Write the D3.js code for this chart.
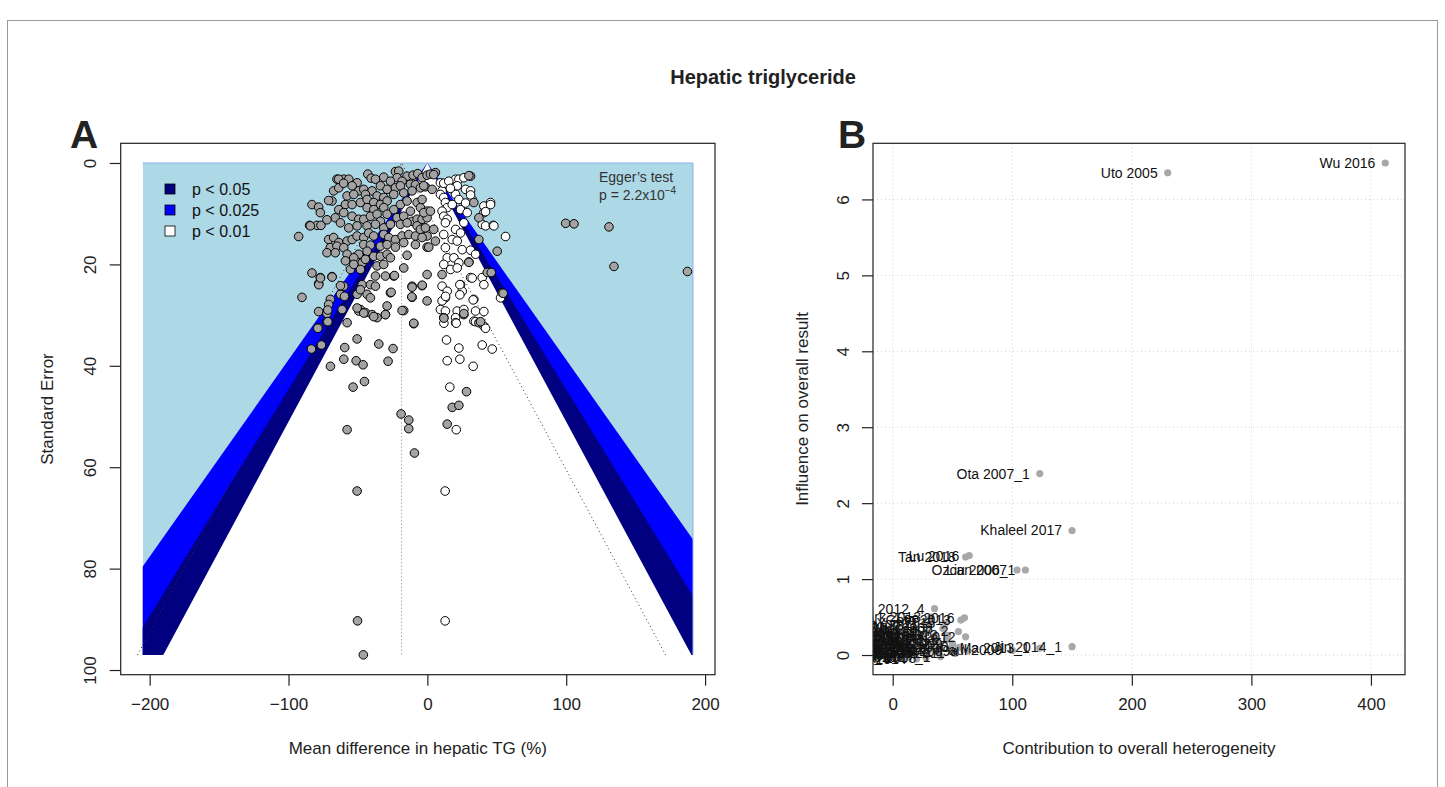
<!DOCTYPE html>
<html>
<head>
<meta charset="utf-8">
<script src="https://cdn.jsdelivr.net/npm/d3@7"></script>
<style>
  body { margin: 0; background: #fff; }
  svg { display: block; }
  text { font-family: "Liberation Sans", Arial, Helvetica, sans-serif; }
</style>
</head>
<body>
<svg id="fig" width="1445" height="787"></svg>
<script>
// ---------- Panel A: contour-enhanced funnel plot ----------
// observed studies: [mean difference (%), standard error]
const observed = [
  [-42.9,2.2],[-40.5,3.0],[-31.4,2.8],[-23.0,1.7],[-20.6,1.6],[-21.8,2.9],[-14.6,2.6],[-10.3,2.4],[-6.9,2.1],[-3.8,2.9],[-0.2,2.4],
  [-65.1,3.2],[-60.2,3.2],[-56.6,3.2],[-50.6,3.9],[-37.4,3.2],[-26.6,3.6],[-18.2,3.6],
  [-67.5,5.5],[-63.8,4.9],[-54.2,4.5],[-49.4,5.5],[-45.8,5.2],[-39.8,5.5],[-33.8,4.5],[-29.0,5.2],[-23.0,4.9],[-19.4,4.5],
  [-12.2,4.2],[-8.6,4.3],[-5.0,4.9],[-1.4,4.7],[-68.7,7.5],[-71.1,7.4],[-57.8,6.5],[-53.0,6.2],[-44.6,6.2],[-36.2,6.5],
  [-31.4,6.8],[-24.2,6.2],[-17.0,5.9],[-11.0,5.5],
  [-83.1,8.2],[-78.3,8.7],[-77.1,9.8],[-59.0,8.2],[-54.2,8.2],[-48.2,7.8],[-43.4,7.2],[-38.6,7.8],[-33.8,8.2],[-29.0,7.5],
  [-24.2,9.2],[-19.4,8.2],[-14.6,7.5],[-12.2,9.5],[-7.4,7.8],[-5.0,8.8],[-0.2,9.5],[-63.8,9.2],[-60.2,9.8],[-43.4,8.8],
  [-38.6,9.2],[-31.4,8.8],
  [-66.3,10.8],[-54.2,10.5],[-49.4,11.1],[-45.8,11.1],[-41.0,10.5],[-36.2,10.1],[-33.8,11.5],[-29.0,10.1],[-21.8,10.8],
  [-17.0,10.5],[-11.0,11.5],[-7.4,11.1],[-3.8,11.1],[-0.2,10.8],[-62.6,11.8],[-56.6,12.8],[-50.6,12.4],[-43.4,12.4],
  [-37.4,12.1],[-31.4,12.8],[-26.6,12.1],[-19.4,12.1],[-14.6,11.8],[-7.4,12.4],[-2.1,12.8],[-84.8,12.3],[-79.5,12.3],
  [-76.6,12.3],[-92.7,14.5],
  [-71.1,15.1],[-67.5,14.7],[-63.8,15.7],[-57.8,15.4],[-54.2,15.1],[-50.6,14.4],[-45.8,14.7],[-42.2,13.8],[-38.6,14.4],
  [-31.4,14.1],[-27.8,14.7],[-23.0,15.1],[-18.2,14.4],[-13.4,14.1],[-8.6,14.4],[-5.0,13.1],[-0.2,14.4],[-69.9,16.7],
  [-65.1,16.4],[-60.2,16.7],[-45.8,16.1],[-41.0,16.2],[-33.8,16.4],[-29.0,16.1],[-23.0,16.6],[-17.0,15.7],[-8.6,16.1],
  [-0.2,16.6],
  [-72.3,17.7],[-66.3,17.7],[-57.8,18.0],[-49.4,18.0],[-43.4,17.4],[-38.6,18.4],[-33.8,18.4],[-29.0,18.0],[-26.6,18.7],
  [-14.6,18.2],[-59.0,19.3],[-53.0,18.7],[-47.0,19.7],[-44.6,19.0],[-36.2,20.3],[-31.4,20.0],[-17.0,20.7],[-0.2,22.0],
  [-55.4,21.0],[-48.2,21.0],[-53.0,20.0],[-83.1,21.7],[-77.1,22.6],[-78.3,23.8],[-68.7,22.4],[-47.0,24.0],[-41.0,24.0],
  [-37.4,22.3],[-30.2,22.3],[-24.2,22.3],[-11.0,24.3],[-3.8,24.2],
  [-60.2,24.3],[-62.6,25.9],[-69.9,26.9],[-90.3,26.5],[-50.6,25.9],[-48.2,25.0],[-43.4,25.9],[-41.0,26.6],[-37.4,24.3],
  [-26.6,25.6],[-11.0,26.5],[-0.2,27.2],
  [-71.1,27.9],[-61.4,28.9],[-48.2,28.9],[-44.6,29.5],[-39.8,29.9],[-36.2,30.5],[-30.2,29.9],[-29.0,28.2],[-17.0,29.1],
  [-78.3,29.3],[-72.3,29.7],[-72.3,31.3],[-57.8,31.5],[-49.4,29.2],[-9.8,31.7],[-78.3,32.5],
  [-2.6,4.5],[3.4,5.2],[2.2,2.2],[5.8,1.9],[-3.8,7.2],[-2.6,9.8],[2.2,9.5],[-1.4,12.8],[4.6,13.1],[-3.8,14.7],[1.0,16.6],
  [5.8,15.4],[31.1,2.6],[29.9,2.5],[4.6,2.3],[33.5,7.8],[37.1,10.8],[37.1,15.1],[50.3,17.4],[29.9,19.5],[43.1,21.6],
  [53.9,25.6],[10.6,22.0],[11.8,30.5],[26.3,29.9],[37.1,31.5],
  [99.6,11.9],[105.6,12.0],[130.8,12.6],[134.4,20.4],[187.3,21.4],
  [-50.6,34.7],[-59.5,36.4],[-76.3,35.9],[-83.5,36.7],[-35.0,35.7],[-24.7,36.6],[-60.2,38.7],[-69.8,40.1],[-51.3,39.0],
  [-46.3,39.8],[-28.3,39.1],[-53.5,44.2],[-45.3,43.1],[-57.8,52.6],[-18.9,49.5],[-13.4,50.7],[-13.4,52.4],[-9.3,57.2],
  [28.2,45.1],[17.9,48.2],[22.7,47.8],[14.3,51.5],
  [-11.0,24.5],[-3.7,24.1],[-11.2,26.4],[-18.2,29.1],[-9.8,31.6],[-26.1,25.5],[-23.7,22.2],[11.9,30.6],[26.3,29.7],
  [29.9,19.6],[38.3,31.3],[54.6,25.7],[46.0,21.6],[-30.2,29.9],[-38.6,30.3],[-45.8,29.6],[-50.6,28.6],
  [-78.9,32.6],[-71.7,31.3],[-71.7,29.0],[-78.2,24.0],[-77.0,22.7],[-68.6,22.5],[-62.6,24.2],[-59.7,26.3],
  [-84.3,12.4],[-72.3,11.2],[-63.9,3.2],[-60.3,4.0],
  [-50.6,64.7],[-50.3,90.3],[-46.1,97.0]
];
// studies imputed by trim-and-fill: [mean difference (%), standard error]
const filled = [
  [9.4,3.9],[13.0,4.2],[10.6,5.5],[9.4,6.2],[11.8,6.8],[13.0,7.8],[14.3,8.8],[10.6,9.5],[11.8,10.5],[14.3,11.1],[13.0,11.8],
  [20.3,3.2],[22.7,3.2],[26.3,2.9],[21.5,4.5],[27.5,5.2],[31.1,5.5],[32.3,7.2],[20.3,6.2],[22.7,7.2],[17.9,8.2],[23.9,9.2],
  [28.7,9.8],[40.7,8.5],[45.5,7.8],[40.7,9.8],[39.5,12.1],[41.9,12.4],[47.4,12.3],[56.3,14.5],[20.3,13.1],[26.3,11.8],
  [17.9,15.1],[21.5,15.4],[25.1,17.1],[31.1,17.2],[34.7,18.0],[13.0,16.7],[14.3,18.7],[19.1,18.7],[22.7,19.7],[11.8,20.0],
  [16.7,21.0],[21.5,20.7],[31.1,22.6],[39.5,22.6],[40.7,24.0],[45.5,21.6],[10.6,24.3],[23.9,24.0],[25.1,25.3],[14.3,25.3],
  [13.0,26.6],[10.6,27.2],[33.5,26.9],[52.7,26.6],[9.4,28.9],[13.0,29.2],[21.5,29.2],[26.3,28.9],[34.7,29.2],[40.7,29.3],
  [20.3,30.5],[33.5,31.2],[40.7,32.2],[20.3,31.5],[11.8,14.1],[23.9,13.8],
  [11.8,4.0],[15.4,3.6],[16.6,5.0],[31.1,6.3],[27.5,7.9],[45.5,8.2],[41.9,9.6],[47.9,12.4],
  [13.8,34.9],[22.7,36.5],[39.5,35.9],[46.7,36.7],[14.3,39.0],[23.4,38.7],[33.0,40.1],[16.2,44.2],[20.8,52.6],[11.9,31.6],
  [20.8,31.6],[34.7,31.3],[41.9,32.6],[33.0,27.0],[23.4,26.0],[13.1,26.3],[23.4,24.0],[32.3,22.7],
  [12.8,64.7],[12.8,90.3]
];
const pooledEstimate = -18.6;          // trim-and-fill pooled mean difference
const funnelX = [-205, 191.3];         // horizontal extent of the shaded region
const funnelSE = [0, 97.04];           // standard-error extent
const contourZ = [2.576, 2.24, 1.96];  // contour edges, outer to inner
const contourFill = ["#0000ff", "#000080", "#ffffff"];
const legendLabels = ["p < 0.05", "p < 0.025", "p < 0.01"];
const legendFill = ["#000080", "#0000ff", "#ffffff"];
const ticksA_x = [-200, -100, 0, 100, 200];
const ticksA_y = [0, 20, 40, 60, 80, 100];

// ---------- Panel B: Baujat plot ----------
// [contribution to heterogeneity, influence on overall result, study]
const baujat = [
  [412, 6.48, "Wu 2016"], [230, 6.35, "Uto 2005"], [123, 2.39, "Ota 2007_1"], [150, 1.64, "Khaleel 2017"],
  [61, 1.29, "Tan 2018"], [64, 1.31, "Lu 2016"], [104, 1.12, "Ozcan 2007"], [111, 1.12, "Liu 2006_1"],
  [35, 0.61, "Kim 2012_4"], [32, 0.50, "Park 2013"], [57, 0.46, "Goto 2013"], [60, 0.49, "Lee 2016"],
  [55, 0.31, "Wang 2007_2"], [61, 0.24, "Chen 2012"], [150, 0.11, "Jin 2014_1"], [123, 0.09, "Ma 2013_1"],
  [100, 0.06, "Paul 2009"], [63, 0.05, "Sun 2009a"], [45, 0.20, "Zhao 2011"], [40, 0.14, "Li 2010_2"],
  [28, 0.30, "Yang 2014"], [25, 0.22, "Xu 2008"], [20, 0.12, "Han 2015_1"], [48, 0.08, "Cho 2012_3"],
  [38, 0.03, "Song 2017"], [30, 0.06, "Abe 2011"], [15, 0.18, "Ruiz 2016"], [12, 0.08, "Kang 2013_2"],
  [8, 0.03, "Mori 2010"], [5, 0.12, "Ahn 2014"], [3, 0.01, "Baek 2009"], [18, 0.02, "Fan 2012"],
  [24, 0.10, "Gao 2018"], [10, 0.25, "Hu 2015"], [2, 0.20, "Shin 2011"], [-2, 0.05, "Kwon 2016"],
  [0, 0.08, "Lim 2010"], [-3, 0.0, "Ryu 2013"], [6, -0.02, "Oh 2012_2"], [14, 0.0, "Jung 2017"],
  [35, 0.25, "Noh 2014"], [42, 0.35, "Choi 2008"],
  [22, 0.28, "Ito 2012"], [18, 0.33, "Sato 2014_2"], [30, 0.40, "Kato 2011"], [44, 0.42, "Yoo 2015"],
  [50, 0.15, "Seo 2009"], [36, 0.18, "Ko 2013_1"], [26, 0.04, "Bae 2016"], [33, 0.10, "Nam 2012"],
  [12, -0.03, "Jo 2010"], [20, -0.05, "Hwang 2014"], [28, -0.04, "Moon 2008"], [40, -0.02, "Yun 2017_1"],
  [46, 0.26, "Kwak 2013"], [52, 0.02, "Pyo 2011"], [8, 0.30, "Tak 2015"], [16, 0.24, "Min 2012_1"],
  [4, 0.35, "Ham 2016"], [1, 0.15, "Lee 2009_2"], [55, 0.10, "Cha 2010"], [9, 0.14, "Woo 2018"],
  [30, 0.16, "Do 2013"]
];
const baujatX = [0, 412];
const baujatY = [0, 6.48];
const ticksB_x = [0, 100, 200, 300, 400];
const ticksB_y = [0, 1, 2, 3, 4, 5, 6];

// ---------- drawing ----------
const svg = d3.select("#fig");
const ext = r => { const d = (r[1] - r[0]) * 0.04; return [r[0] - d, r[1] + d]; };

svg.append("rect").attr("x", 7.5).attr("y", 20.5).attr("width", 1430).attr("height", 800)
  .attr("fill", "none").attr("stroke", "#9a9a9a");

svg.append("text").attr("x", 763).attr("y", 84).attr("text-anchor", "middle")
  .attr("font-size", 20).attr("font-weight", "bold").attr("fill", "#222").text("Hepatic triglyceride");

// ----- panel A -----
const boxA = { l: 120.7, r: 715, t: 143.3, b: 674.7 };
const xA = d3.scaleLinear().domain(ext(funnelX)).range([boxA.l, boxA.r]);
const yA = d3.scaleLinear().domain(ext(funnelSE)).range([boxA.t, boxA.b]);
const gA = svg.append("g");

svg.append("defs").append("clipPath").attr("id", "clipFunnel").append("rect")
  .attr("x", xA(funnelX[0])).attr("y", yA(funnelSE[0]))
  .attr("width", xA(funnelX[1]) - xA(funnelX[0])).attr("height", yA(funnelSE[1]) - yA(funnelSE[0]));

const shade = gA.append("g").attr("clip-path", "url(#clipFunnel)");
shade.append("rect").attr("x", xA(funnelX[0])).attr("y", yA(funnelSE[0]))
  .attr("width", xA(funnelX[1]) - xA(funnelX[0])).attr("height", yA(funnelSE[1]) - yA(funnelSE[0]))
  .attr("fill", "#add8e6");
const tri = d3.line().x(d => xA(d[0])).y(d => yA(d[1]));
contourZ.forEach((z, i) => {
  const s = funnelSE[1];
  shade.append("path").attr("d", tri([[0, 0], [-z * s, s], [z * s, s]]) + "Z").attr("fill", contourFill[i]);
});
// thin edge along the top and right of the shaded region
gA.append("path")
  .attr("d", tri([[funnelX[0], funnelSE[0]], [funnelX[1], funnelSE[0]], [funnelX[1], funnelSE[1]]]))
  .attr("fill", "none").attr("stroke", "#8fb2ea").attr("stroke-width", 1);

// pseudo confidence region around the pooled estimate
const sMax = funnelSE[1];
gA.append("path").attr("d", tri([[pooledEstimate - 1.96 * sMax, sMax], [pooledEstimate, 0], [pooledEstimate + 1.96 * sMax, sMax]]))
  .attr("fill", "none").attr("stroke", "#333").attr("stroke-width", 1).attr("stroke-dasharray", "1,3");
gA.append("line").attr("x1", xA(pooledEstimate)).attr("x2", xA(pooledEstimate))
  .attr("y1", yA(0)).attr("y2", yA(sMax))
  .attr("stroke", "#aaa").attr("stroke-width", 1).attr("stroke-dasharray", "1.5,2");

gA.append("g").selectAll("circle").data(filled).join("circle")
  .attr("cx", d => xA(d[0])).attr("cy", d => yA(d[1])).attr("r", 4.3)
  .attr("fill", "#fff").attr("stroke", "#000").attr("stroke-width", 1);
gA.append("g").selectAll("circle").data(observed).join("circle")
  .attr("cx", d => xA(d[0])).attr("cy", d => yA(d[1])).attr("r", 4.3)
  .attr("fill", "#a3a3a3").attr("stroke", "#000").attr("stroke-width", 1);

// legend
legendLabels.forEach((lab, i) => {
  const cy = 189 + i * 21;
  gA.append("rect").attr("x", 165).attr("y", cy - 5).attr("width", 10).attr("height", 10)
    .attr("fill", legendFill[i]).attr("stroke", "#000").attr("stroke-width", 0.8);
  gA.append("text").attr("x", 192).attr("y", cy + 6).attr("font-size", 16).attr("fill", "#111").text(lab);
});
gA.append("text").attr("x", 599).attr("y", 182).attr("font-size", 14).attr("fill", "#333").text("Egger\u2019s test");
const eg = gA.append("text").attr("x", 599).attr("y", 200).attr("font-size", 14).attr("fill", "#333");
eg.append("tspan").text("p = 2.2x10");
eg.append("tspan").attr("dy", -6).attr("font-size", 10).text("\u22124");

// frame and axes
gA.append("rect").attr("x", boxA.l).attr("y", boxA.t).attr("width", boxA.r - boxA.l).attr("height", boxA.b - boxA.t)
  .attr("fill", "none").attr("stroke", "#222").attr("stroke-width", 1.2);
const axA_x = gA.append("g").attr("transform", `translate(0,${boxA.b})`)
  .call(d3.axisBottom(xA).tickValues(ticksA_x).tickSize(11).tickPadding(12).tickFormat(d => d3.format("d")(d).replace("-", "\u2212")));
const axA_y = gA.append("g").attr("transform", `translate(${boxA.l},0)`)
  .call(d3.axisLeft(yA).tickValues(ticksA_y).tickSize(11).tickFormat(d3.format("d")));
[axA_x, axA_y].forEach(a => {
  a.select(".domain").remove();
  a.selectAll("line").attr("stroke", "#222").attr("stroke-width", 1.2);
  a.selectAll("text").attr("font-size", 17).attr("fill", "#222").attr("font-family", null);
});
axA_y.selectAll(".tick text").attr("text-anchor", "middle").attr("x", 0).attr("dy", 0)
  .attr("transform", "translate(-30,0) rotate(-90)").attr("dominant-baseline", "central");
gA.append("text").attr("x", (boxA.l + boxA.r) / 2).attr("y", 754).attr("text-anchor", "middle")
  .attr("font-size", 17).attr("fill", "#222").text("Mean difference in hepatic TG (%)");
gA.append("text").attr("transform", `translate(53,${(boxA.t + boxA.b) / 2}) rotate(-90)`).attr("text-anchor", "middle")
  .attr("font-size", 17).attr("fill", "#222").text("Standard Error");
gA.append("text").attr("x", 70).attr("y", 148).attr("font-size", 39).attr("font-weight", "bold").attr("fill", "#222").text("A");

// ----- panel B -----
const boxB = { l: 873, r: 1405, t: 143.3, b: 674.7 };
const xB = d3.scaleLinear().domain(ext(baujatX)).range([boxB.l, boxB.r]);
const yB = d3.scaleLinear().domain(ext(baujatY)).range([boxB.b, boxB.t]);
const gB = svg.append("g");
svg.select("defs").append("clipPath").attr("id", "clipB").append("rect")
  .attr("x", boxB.l).attr("y", boxB.t).attr("width", boxB.r - boxB.l).attr("height", boxB.b - boxB.t);

const grid = gB.append("g").attr("stroke", "#cfcfcf").attr("stroke-width", 1).attr("stroke-dasharray", "1,3");
ticksB_x.forEach(v => grid.append("line").attr("x1", xB(v)).attr("x2", xB(v)).attr("y1", boxB.t).attr("y2", boxB.b));
ticksB_y.forEach(v => grid.append("line").attr("x1", boxB.l).attr("x2", boxB.r).attr("y1", yB(v)).attr("y2", yB(v)));

const inB = gB.append("g").attr("clip-path", "url(#clipB)");
inB.append("g").selectAll("circle").data(baujat).join("circle")
  .attr("cx", d => xB(d[0])).attr("cy", d => yB(d[1])).attr("r", 3.6).attr("fill", "#a8a8a8");
inB.append("g").selectAll("text").data(baujat).join("text")
  .attr("x", d => xB(d[0]) - 10).attr("y", d => yB(d[1]) + 5).attr("text-anchor", "end")
  .attr("font-size", 14).attr("fill", "#111").text(d => d[2]);

gB.append("rect").attr("x", boxB.l).attr("y", boxB.t).attr("width", boxB.r - boxB.l).attr("height", boxB.b - boxB.t)
  .attr("fill", "none").attr("stroke", "#222").attr("stroke-width", 1.2);
const axB_x = gB.append("g").attr("transform", `translate(0,${boxB.b})`)
  .call(d3.axisBottom(xB).tickValues(ticksB_x).tickSize(11).tickPadding(12).tickFormat(d3.format("d")));
const axB_y = gB.append("g").attr("transform", `translate(${boxB.l},0)`)
  .call(d3.axisLeft(yB).tickValues(ticksB_y).tickSize(11).tickFormat(d3.format("d")));
[axB_x, axB_y].forEach(a => {
  a.select(".domain").remove();
  a.selectAll("line").attr("stroke", "#222").attr("stroke-width", 1.2);
  a.selectAll("text").attr("font-size", 17).attr("fill", "#222").attr("font-family", null);
});
axB_y.selectAll(".tick text").attr("text-anchor", "middle").attr("x", 0).attr("dy", 0)
  .attr("transform", "translate(-30,0) rotate(-90)").attr("dominant-baseline", "central");
gB.append("text").attr("x", (boxB.l + boxB.r) / 2).attr("y", 754).attr("text-anchor", "middle")
  .attr("font-size", 17).attr("fill", "#222").text("Contribution to overall heterogeneity");
gB.append("text").attr("transform", `translate(808,${(boxB.t + boxB.b) / 2}) rotate(-90)`).attr("text-anchor", "middle")
  .attr("font-size", 17).attr("fill", "#222").text("Influence on overall result");
gB.append("text").attr("x", 838).attr("y", 148).attr("font-size", 39).attr("font-weight", "bold").attr("fill", "#222").text("B");
</script>
</body>
</html>
